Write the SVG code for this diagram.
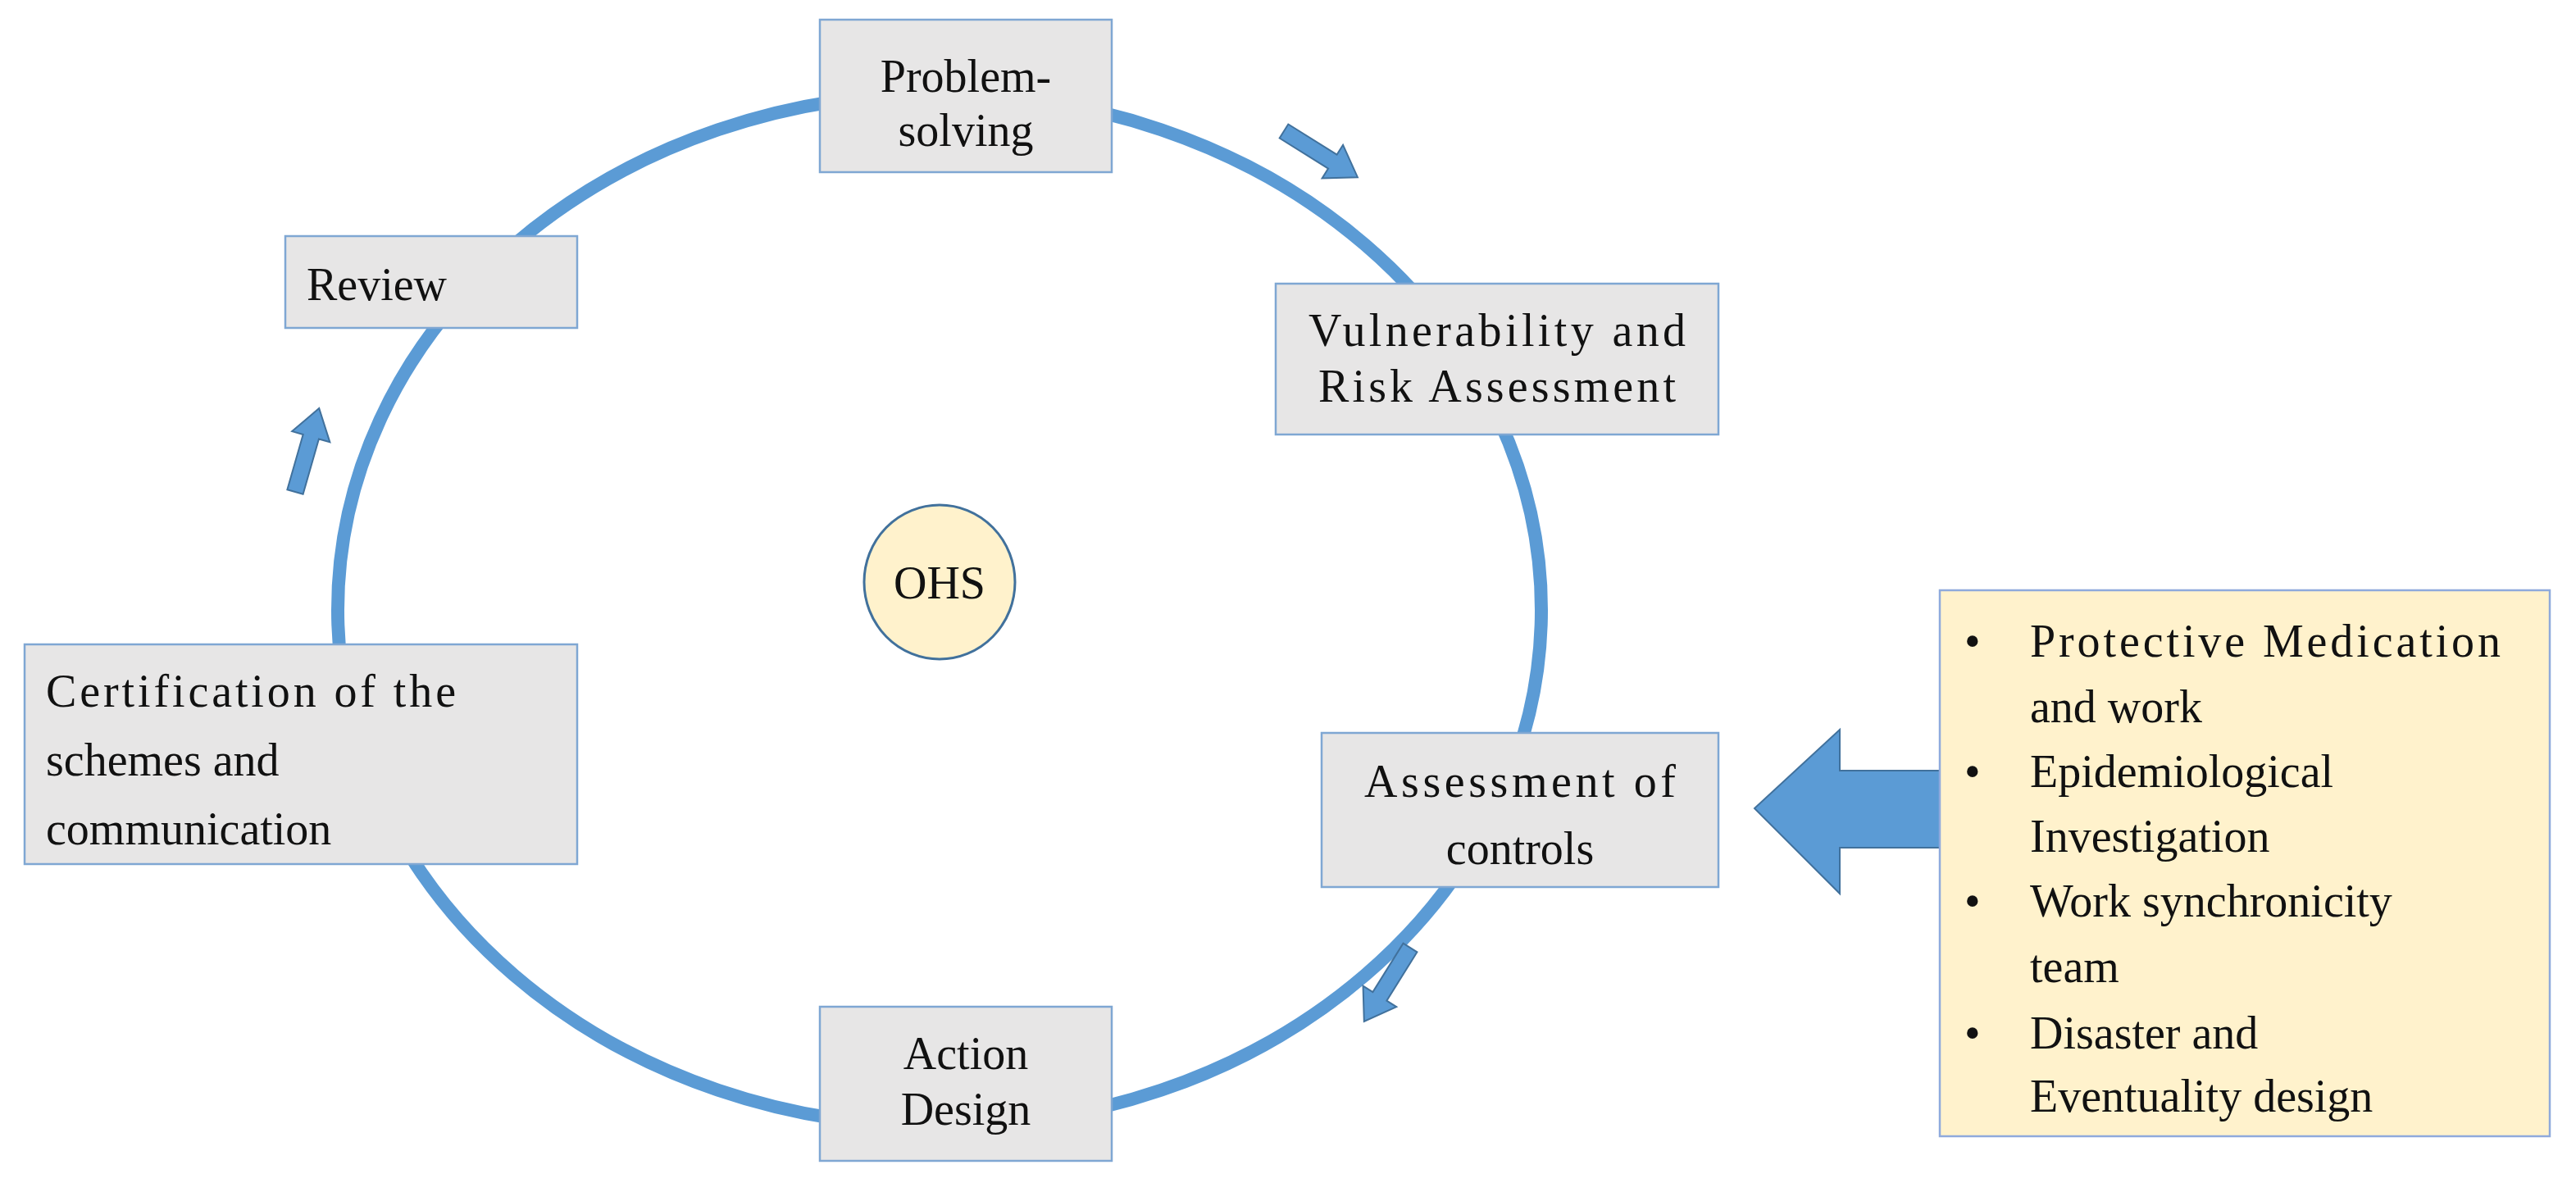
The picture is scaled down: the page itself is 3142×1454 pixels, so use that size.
<svg xmlns="http://www.w3.org/2000/svg" width="3142" height="1454" viewBox="0 0 3142 1454">
<style>
.box{fill:#e7e6e6;stroke:#7fa7d3;stroke-width:2.5}
.t{font-family:"Liberation Serif","Times New Roman",serif;font-size:56px;fill:#111}
.m{text-anchor:middle}
.ar{fill:#5b9bd5;stroke:#41719c;stroke-width:2}
</style>
<rect width="3142" height="1454" fill="#fff"/>
<g id="connectors">
<ellipse cx="1146" cy="744" rx="734" ry="630" fill="none" stroke="#5b9bd5" stroke-width="16"/>
<g transform="translate(1566,160) rotate(32)"><polygon class="ar" points="0,-10 70,-10 70,-24 106,0 70,24 70,10 0,10"/></g>
<g transform="translate(1720,1156) rotate(122)"><polygon class="ar" points="0,-10 70,-10 70,-24 106,0 70,24 70,10 0,10"/></g>
<g transform="translate(360,600) rotate(-74)"><polygon class="ar" points="0,-10 70,-10 70,-24 106,0 70,24 70,10 0,10"/></g>
<polygon points="2366,940 2244,940 2244,890 2140,986 2244,1090 2244,1034 2366,1034" fill="#5b9bd5" stroke="#41719c" stroke-width="2"/>
</g>
<g id="problem"><rect class="box" x="1000" y="24" width="356" height="186"/><text class="t m" x="1178" y="112">Problem-</text><text class="t m" x="1178" y="178">solving</text></g>
<g id="review"><rect class="box" x="348" y="288" width="356" height="112"/><text class="t" x="374" y="366">Review</text></g>
<g id="vuln"><rect class="box" x="1556" y="346" width="540" height="184"/><text class="t" x="1596" y="422" textLength="460">Vulnerability and</text><text class="t" x="1608" y="490" textLength="436">Risk Assessment</text></g>
<g id="ohs"><ellipse cx="1146" cy="710" rx="92" ry="94" fill="#fff2cc" stroke="#41719c" stroke-width="3"/><text class="t m" x="1146" y="730">OHS</text></g>
<g id="cert"><rect class="box" x="30" y="786" width="674" height="268"/><text class="t" x="56" y="862" textLength="500">Certification of the</text><text class="t" x="56" y="946">schemes and</text><text class="t" x="56" y="1030">communication</text></g>
<g id="assess"><rect class="box" x="1612" y="894" width="484" height="188"/><text class="t" x="1664" y="972" textLength="380">Assessment of</text><text class="t m" x="1854" y="1054">controls</text></g>
<g id="action"><rect class="box" x="1000" y="1228" width="356" height="188"/><text class="t m" x="1178" y="1304">Action</text><text class="t m" x="1178" y="1372">Design</text></g>
<g id="list"><rect x="2366" y="720" width="744" height="666" fill="#fff2cc" stroke="#8faadc" stroke-width="2.5"/>
<g class="t">
<text x="2396" y="801">•</text><text x="2476" y="801" textLength="574">Protective Medication</text>
<text x="2476" y="881">and work</text>
<text x="2396" y="960">•</text><text x="2476" y="960">Epidemiological</text>
<text x="2476" y="1039">Investigation</text>
<text x="2396" y="1118">•</text><text x="2476" y="1118">Work synchronicity</text>
<text x="2476" y="1198">team</text>
<text x="2396" y="1279">•</text><text x="2476" y="1279">Disaster and</text>
<text x="2476" y="1356">Eventuality design</text>
</g></g>
</svg>
